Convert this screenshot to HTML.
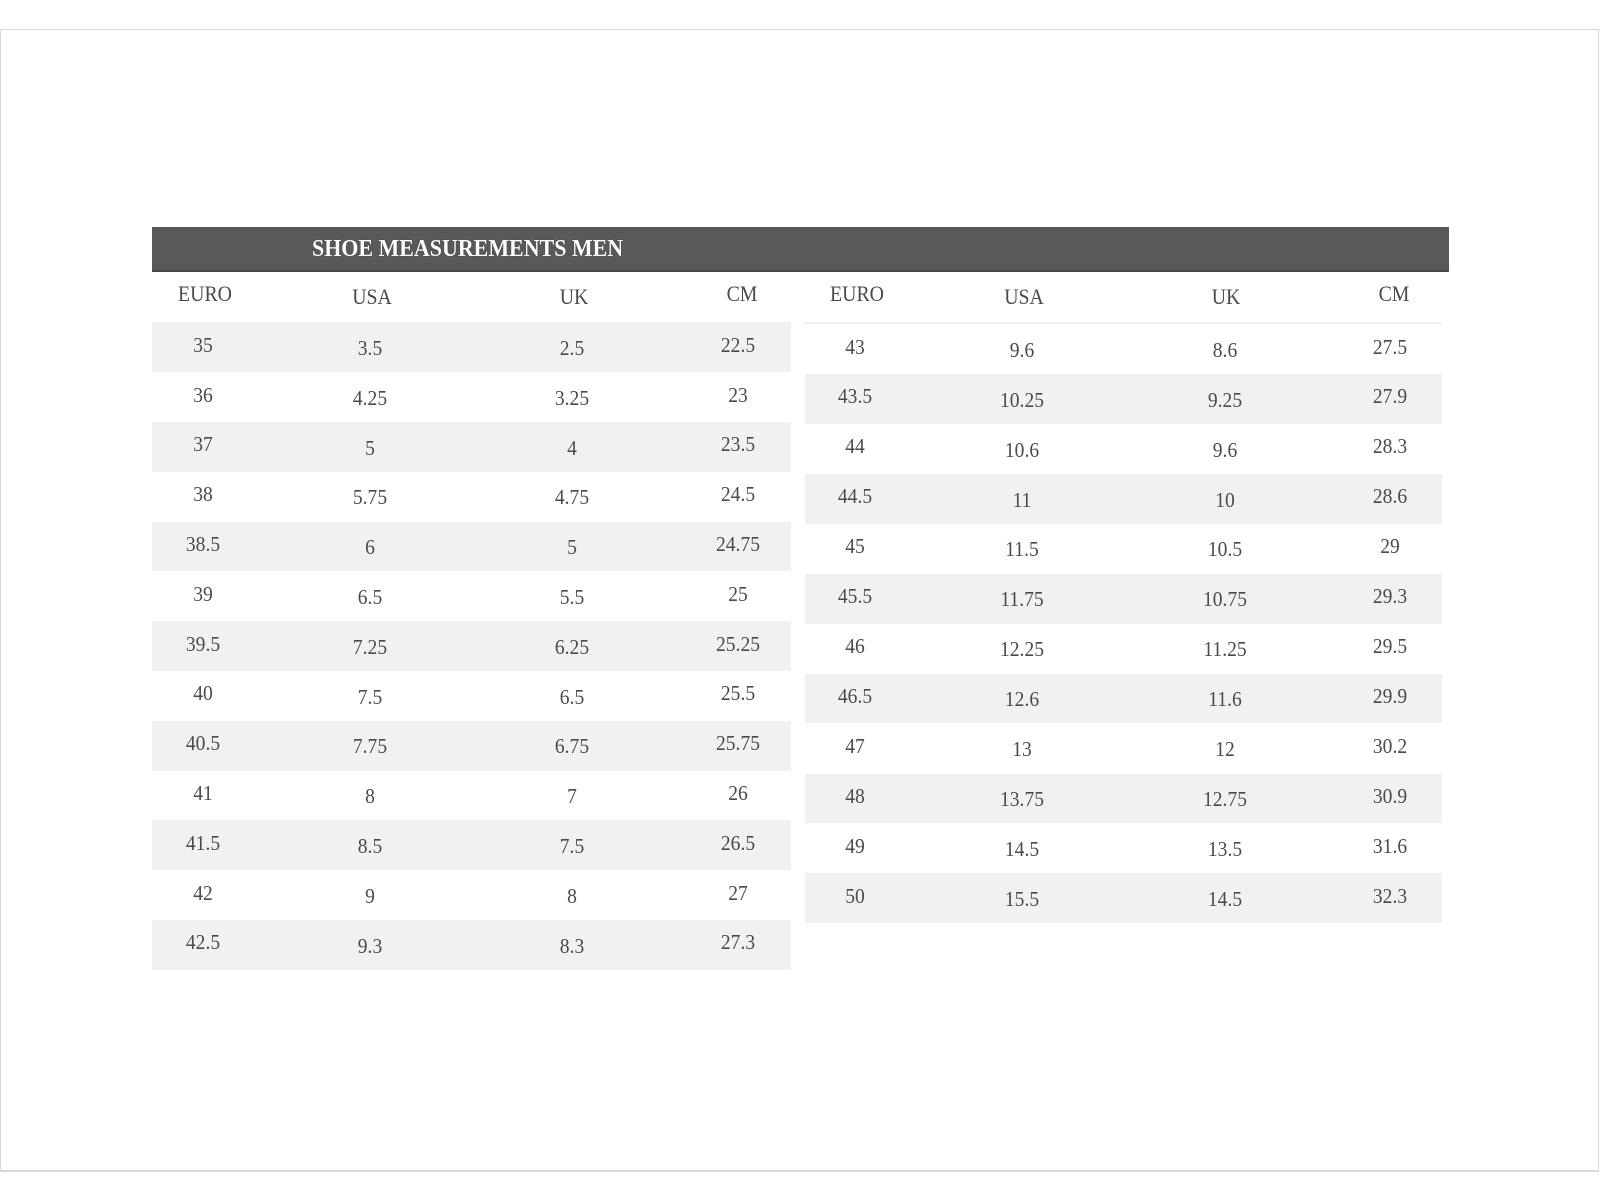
<!DOCTYPE html>
<html>
<head>
<meta charset="utf-8">
<style>
html,body{margin:0;padding:0;background:#fff;}
body{width:1600px;height:1200px;position:relative;overflow:hidden;font-family:"Liberation Serif","DejaVu Serif",serif;color:#4a4a4a;}
.frame{position:absolute;left:0;top:29px;width:1597px;height:1140px;border:1px solid #d9d9d9;border-bottom:2px solid #d9d9d9;}
.bar{position:absolute;left:152px;top:227px;width:1297px;height:43px;background:#58595a;border-bottom:2px solid #464747;}
.title{position:absolute;left:312px;top:236.5px;font-size:24px;line-height:24px;font-weight:bold;color:#fff;white-space:nowrap;transform-origin:0 50%;transform:scaleX(0.915);text-shadow:0 0 1px #333;}
.g{position:absolute;background:#f1f1f1;}
.sep{position:absolute;left:804px;top:322px;width:638px;height:2px;background:#f0f0f0;}
.h{position:absolute;font-size:22px;line-height:22px;white-space:nowrap;transform:translateX(-50%) scaleX(0.9);}
.t{position:absolute;font-size:21px;line-height:21px;white-space:nowrap;transform:translateX(-50%) scaleX(0.93);}
</style>
</head>
<body>
<div class="frame"></div>
<div class="bar"></div>
<div class="title">SHOE MEASUREMENTS MEN</div>

<!-- left gray rows -->
<div class="g" style="left:152px;top:322.4px;width:639px;height:49.8px"></div>
<div class="g" style="left:152px;top:422px;width:639px;height:49.8px"></div>
<div class="g" style="left:152px;top:521.6px;width:639px;height:49.8px"></div>
<div class="g" style="left:152px;top:621.2px;width:639px;height:49.8px"></div>
<div class="g" style="left:152px;top:720.8px;width:639px;height:49.8px"></div>
<div class="g" style="left:152px;top:820.4px;width:639px;height:49.8px"></div>
<div class="g" style="left:152px;top:920px;width:639px;height:49.8px"></div>

<!-- right gray rows -->
<div class="sep"></div>
<div class="g" style="left:805px;top:373.9px;width:637px;height:49.9px"></div>
<div class="g" style="left:805px;top:473.8px;width:637px;height:49.9px"></div>
<div class="g" style="left:805px;top:573.7px;width:637px;height:49.9px"></div>
<div class="g" style="left:805px;top:673.6px;width:637px;height:49.9px"></div>
<div class="g" style="left:805px;top:773.5px;width:637px;height:49.9px"></div>
<div class="g" style="left:805px;top:873.3px;width:637px;height:49.9px"></div>

<!-- headers left -->
<div class="h" style="left:205px;top:283.3px">EURO</div>
<div class="h" style="left:371.5px;top:285.8px">USA</div>
<div class="h" style="left:574px;top:285.8px">UK</div>
<div class="h" style="left:741.5px;top:282.8px">CM</div>
<!-- headers right -->
<div class="h" style="left:857px;top:283.3px">EURO</div>
<div class="h" style="left:1023.5px;top:285.8px">USA</div>
<div class="h" style="left:1226px;top:285.8px">UK</div>
<div class="h" style="left:1393.5px;top:282.8px">CM</div>

<!-- left rows: EURO x203, USA 369.5, UK 571.5, CM 738 -->
<div class="t" style="left:203px;top:334.8px">35</div>
<div class="t" style="left:369.5px;top:338px">3.5</div>
<div class="t" style="left:571.5px;top:338px">2.5</div>
<div class="t" style="left:738px;top:334.8px">22.5</div>

<div class="t" style="left:203px;top:384.6px">36</div>
<div class="t" style="left:369.5px;top:387.8px">4.25</div>
<div class="t" style="left:571.5px;top:387.8px">3.25</div>
<div class="t" style="left:738px;top:384.6px">23</div>

<div class="t" style="left:203px;top:434.4px">37</div>
<div class="t" style="left:369.5px;top:437.6px">5</div>
<div class="t" style="left:571.5px;top:437.6px">4</div>
<div class="t" style="left:738px;top:434.4px">23.5</div>

<div class="t" style="left:203px;top:484.2px">38</div>
<div class="t" style="left:369.5px;top:487.4px">5.75</div>
<div class="t" style="left:571.5px;top:487.4px">4.75</div>
<div class="t" style="left:738px;top:484.2px">24.5</div>

<div class="t" style="left:203px;top:534px">38.5</div>
<div class="t" style="left:369.5px;top:537.2px">6</div>
<div class="t" style="left:571.5px;top:537.2px">5</div>
<div class="t" style="left:738px;top:534px">24.75</div>

<div class="t" style="left:203px;top:583.8px">39</div>
<div class="t" style="left:369.5px;top:587px">6.5</div>
<div class="t" style="left:571.5px;top:587px">5.5</div>
<div class="t" style="left:738px;top:583.8px">25</div>

<div class="t" style="left:203px;top:633.6px">39.5</div>
<div class="t" style="left:369.5px;top:636.8px">7.25</div>
<div class="t" style="left:571.5px;top:636.8px">6.25</div>
<div class="t" style="left:738px;top:633.6px">25.25</div>

<div class="t" style="left:203px;top:683.4px">40</div>
<div class="t" style="left:369.5px;top:686.6px">7.5</div>
<div class="t" style="left:571.5px;top:686.6px">6.5</div>
<div class="t" style="left:738px;top:683.4px">25.5</div>

<div class="t" style="left:203px;top:733.2px">40.5</div>
<div class="t" style="left:369.5px;top:736.4px">7.75</div>
<div class="t" style="left:571.5px;top:736.4px">6.75</div>
<div class="t" style="left:738px;top:733.2px">25.75</div>

<div class="t" style="left:203px;top:783px">41</div>
<div class="t" style="left:369.5px;top:786.2px">8</div>
<div class="t" style="left:571.5px;top:786.2px">7</div>
<div class="t" style="left:738px;top:783px">26</div>

<div class="t" style="left:203px;top:832.8px">41.5</div>
<div class="t" style="left:369.5px;top:836px">8.5</div>
<div class="t" style="left:571.5px;top:836px">7.5</div>
<div class="t" style="left:738px;top:832.8px">26.5</div>

<div class="t" style="left:203px;top:882.6px">42</div>
<div class="t" style="left:369.5px;top:885.8px">9</div>
<div class="t" style="left:571.5px;top:885.8px">8</div>
<div class="t" style="left:738px;top:882.6px">27</div>

<div class="t" style="left:203px;top:932.4px">42.5</div>
<div class="t" style="left:369.5px;top:935.6px">9.3</div>
<div class="t" style="left:571.5px;top:935.6px">8.3</div>
<div class="t" style="left:738px;top:932.4px">27.3</div>

<!-- right rows: EURO 855, USA 1021.5, UK 1224.5, CM 1390 -->
<div class="t" style="left:855px;top:336.5px">43</div>
<div class="t" style="left:1021.5px;top:339.7px">9.6</div>
<div class="t" style="left:1224.5px;top:339.7px">8.6</div>
<div class="t" style="left:1390px;top:336.5px">27.5</div>

<div class="t" style="left:855px;top:386.4px">43.5</div>
<div class="t" style="left:1021.5px;top:389.6px">10.25</div>
<div class="t" style="left:1224.5px;top:389.6px">9.25</div>
<div class="t" style="left:1390px;top:386.4px">27.9</div>

<div class="t" style="left:855px;top:436.4px">44</div>
<div class="t" style="left:1021.5px;top:439.6px">10.6</div>
<div class="t" style="left:1224.5px;top:439.6px">9.6</div>
<div class="t" style="left:1390px;top:436.4px">28.3</div>

<div class="t" style="left:855px;top:486.3px">44.5</div>
<div class="t" style="left:1021.5px;top:489.5px">11</div>
<div class="t" style="left:1224.5px;top:489.5px">10</div>
<div class="t" style="left:1390px;top:486.3px">28.6</div>

<div class="t" style="left:855px;top:536.2px">45</div>
<div class="t" style="left:1021.5px;top:539.4px">11.5</div>
<div class="t" style="left:1224.5px;top:539.4px">10.5</div>
<div class="t" style="left:1390px;top:536.2px">29</div>

<div class="t" style="left:855px;top:586.2px">45.5</div>
<div class="t" style="left:1021.5px;top:589.4px">11.75</div>
<div class="t" style="left:1224.5px;top:589.4px">10.75</div>
<div class="t" style="left:1390px;top:586.2px">29.3</div>

<div class="t" style="left:855px;top:636.1px">46</div>
<div class="t" style="left:1021.5px;top:639.3px">12.25</div>
<div class="t" style="left:1224.5px;top:639.3px">11.25</div>
<div class="t" style="left:1390px;top:636.1px">29.5</div>

<div class="t" style="left:855px;top:686.1px">46.5</div>
<div class="t" style="left:1021.5px;top:689.3px">12.6</div>
<div class="t" style="left:1224.5px;top:689.3px">11.6</div>
<div class="t" style="left:1390px;top:686.1px">29.9</div>

<div class="t" style="left:855px;top:736px">47</div>
<div class="t" style="left:1021.5px;top:739.2px">13</div>
<div class="t" style="left:1224.5px;top:739.2px">12</div>
<div class="t" style="left:1390px;top:736px">30.2</div>

<div class="t" style="left:855px;top:785.9px">48</div>
<div class="t" style="left:1021.5px;top:789.1px">13.75</div>
<div class="t" style="left:1224.5px;top:789.1px">12.75</div>
<div class="t" style="left:1390px;top:785.9px">30.9</div>

<div class="t" style="left:855px;top:835.9px">49</div>
<div class="t" style="left:1021.5px;top:839.1px">14.5</div>
<div class="t" style="left:1224.5px;top:839.1px">13.5</div>
<div class="t" style="left:1390px;top:835.9px">31.6</div>

<div class="t" style="left:855px;top:885.8px">50</div>
<div class="t" style="left:1021.5px;top:889px">15.5</div>
<div class="t" style="left:1224.5px;top:889px">14.5</div>
<div class="t" style="left:1390px;top:885.8px">32.3</div>

</body>
</html>
